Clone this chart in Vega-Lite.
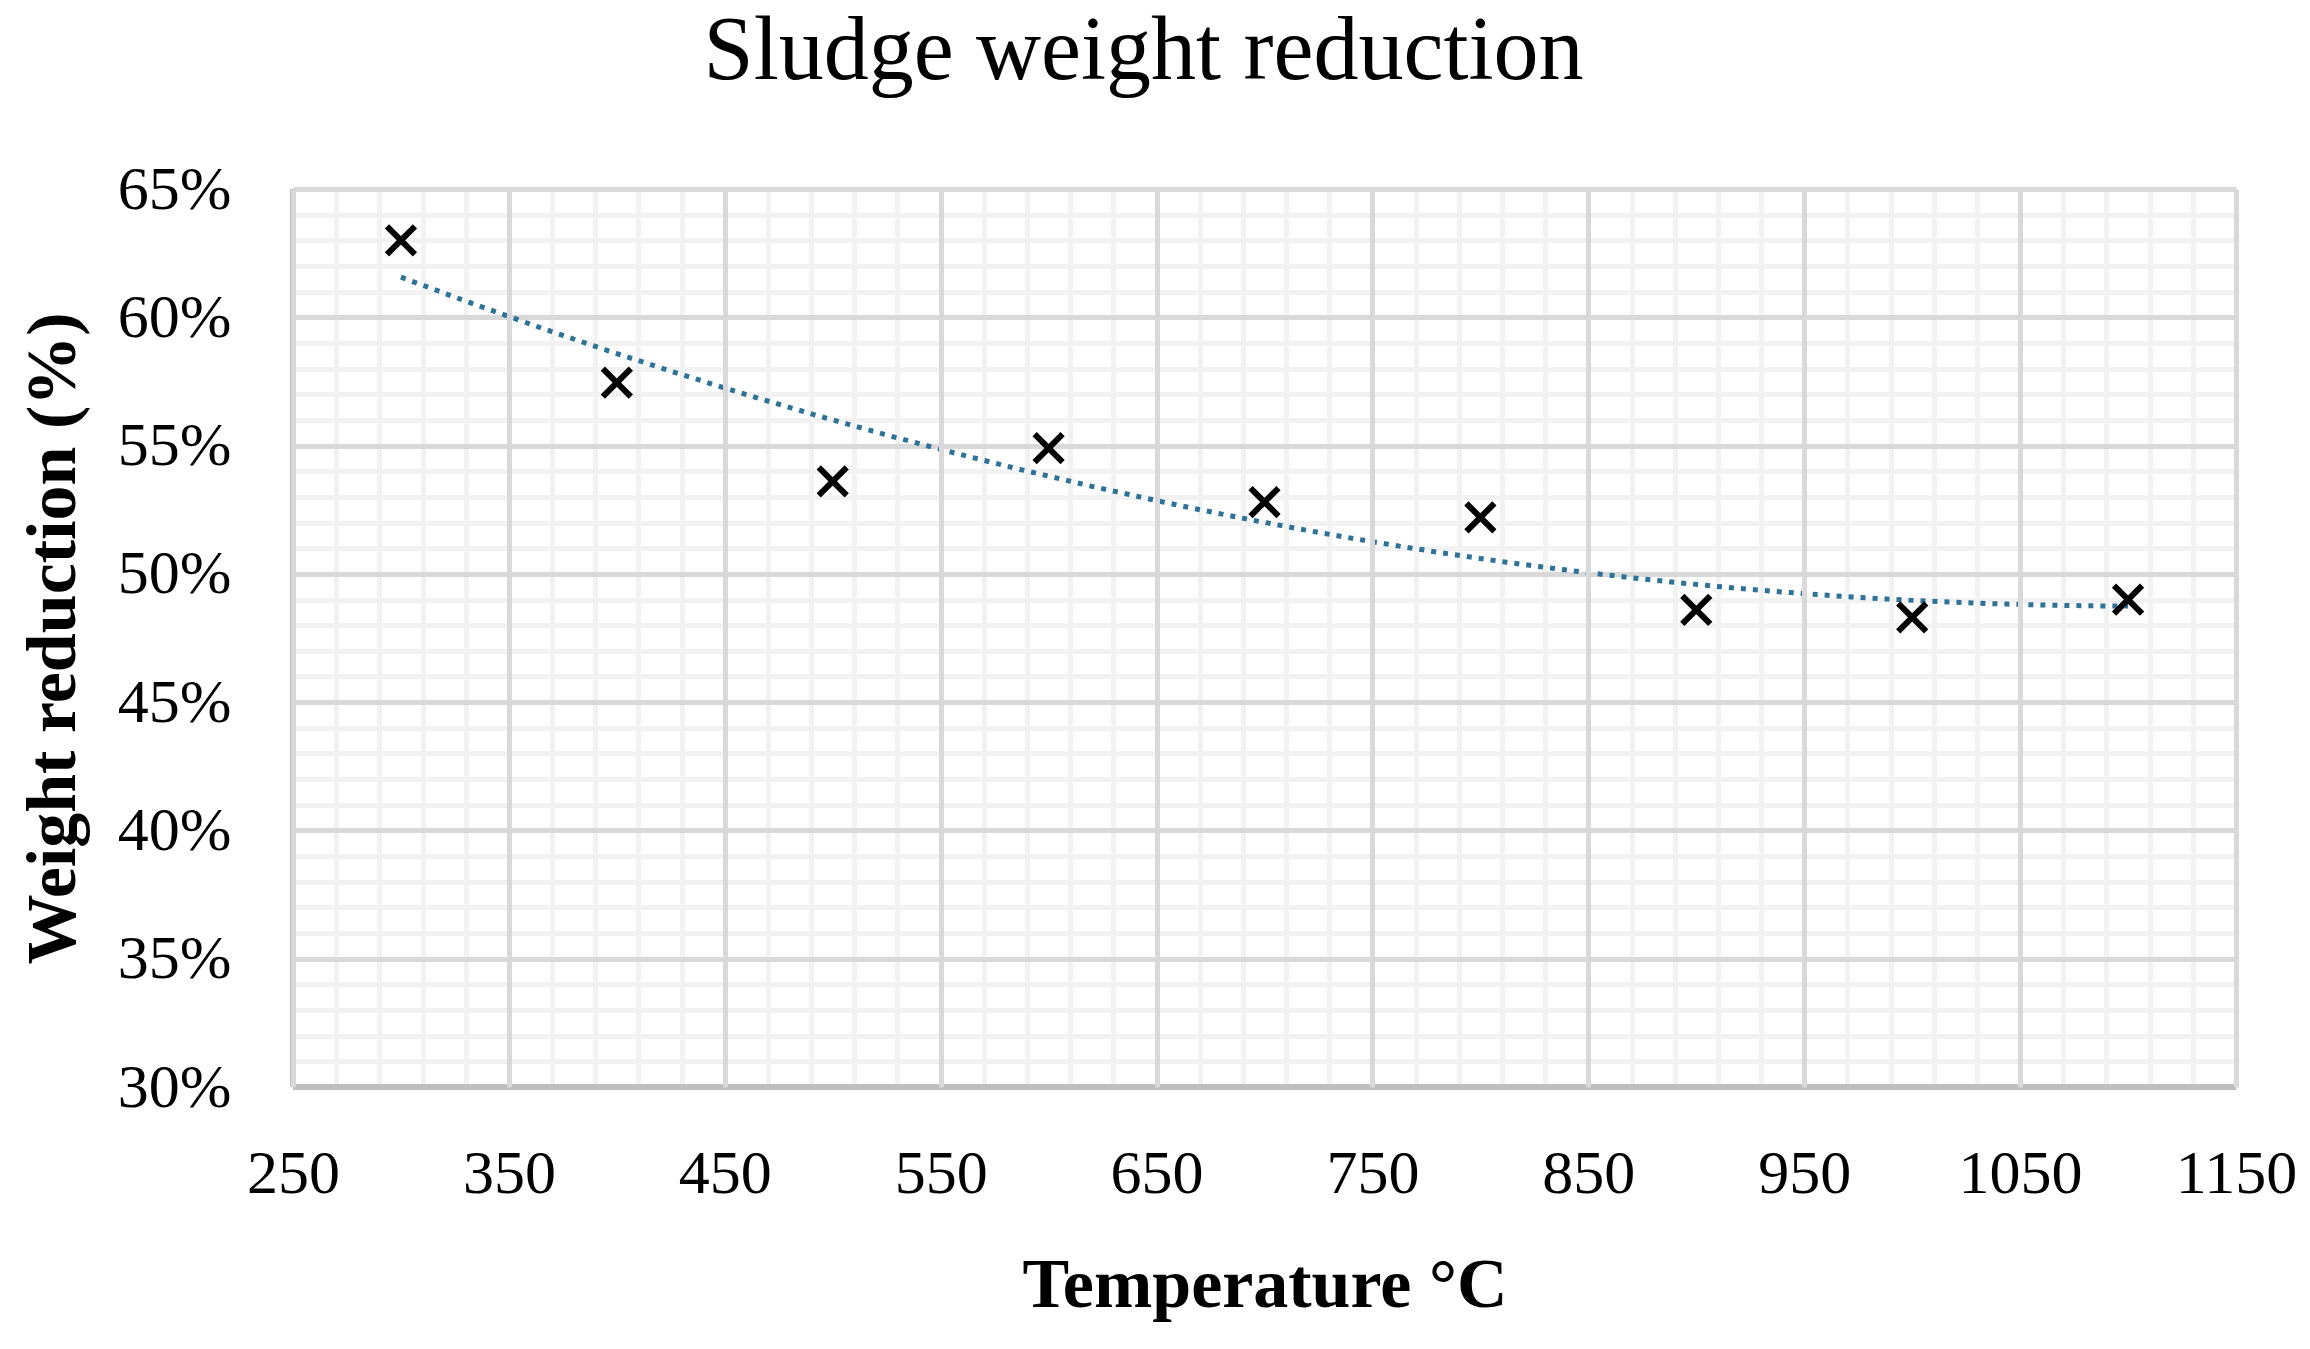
{
  "$schema": "https://vega.github.io/schema/vega-lite/v6.json",
  "description": "Sludge weight reduction against temperature, with a second-order polynomial trend line.",
  "autosize": "none",
  "width": 1943,
  "height": 898,
  "padding": {"left": 293, "top": 189, "right": 74, "bottom": 262},
  "background": "white",
  "title": {
    "text": "Sludge weight reduction",
    "font": "Liberation Serif",
    "fontSize": 90,
    "fontWeight": "normal",
    "color": "black",
    "anchor": "middle",
    "baseline": "alphabetic",
    "dx": -121,
    "offset": -11
  },
  "data": {
    "values": [
      {"Temperature": 300, "Reduction": 0.630},
      {"Temperature": 400, "Reduction": 0.5745},
      {"Temperature": 500, "Reduction": 0.536},
      {"Temperature": 600, "Reduction": 0.549},
      {"Temperature": 700, "Reduction": 0.528},
      {"Temperature": 800, "Reduction": 0.522},
      {"Temperature": 900, "Reduction": 0.486},
      {"Temperature": 1000, "Reduction": 0.483},
      {"Temperature": 1100, "Reduction": 0.490}
    ]
  },
  "resolve": {"axis": {"x": "independent", "y": "independent"}},
  "layer": [
    {
      "data": {"values": [{}]},
      "mark": {"type": "rule", "color": "#bfbfbf", "strokeWidth": 6},
      "encoding": {
        "x": {"datum": 250, "type": "quantitative", "axis": null}
      }
    },
    {
      "data": {"values": [{}]},
      "mark": {"type": "rule", "color": "#bfbfbf", "strokeWidth": 6},
      "encoding": {
        "y": {"datum": 0.30, "type": "quantitative", "axis": null}
      }
    },
    {
      "transform": [
        {
          "regression": "Reduction",
          "on": "Temperature",
          "method": "poly",
          "order": 2,
          "extent": [300, 1100]
        }
      ],
      "mark": {
        "type": "line",
        "color": "#2e7298",
        "strokeWidth": 5,
        "strokeDash": [5, 7],
        "strokeCap": "butt"
      },
      "encoding": {
        "x": {"field": "Temperature", "type": "quantitative", "axis": null},
        "y": {"field": "Reduction", "type": "quantitative", "axis": null}
      }
    },
    {
      "mark": {
        "type": "point",
        "shape": "M-1,-1L1,1M-1,1L1,-1",
        "size": 784,
        "filled": false,
        "stroke": "black",
        "strokeWidth": 6,
        "opacity": 1
      },
      "encoding": {
        "x": {
          "field": "Temperature",
          "type": "quantitative",
          "axis": {
            "orient": "bottom",
            "title": "Temperature °C",
            "values": [250, 350, 450, 550, 650, 750, 850, 950, 1050, 1150],
            "format": "d",
            "domain": false,
            "ticks": false,
            "grid": true,
            "gridColor": "#d9d9d9",
            "gridWidth": 5,
            "zindex": 1,
            "labelFont": "Liberation Serif",
            "labelFontSize": 62,
            "labelColor": "black",
            "labelPadding": 56,
            "labelFlush": false,
            "labelOverlap": false,
            "titleFont": "Liberation Serif",
            "titleFontSize": 70,
            "titleFontWeight": "bold",
            "titleColor": "black",
            "titlePadding": 47
          }
        },
        "y": {
          "field": "Reduction",
          "type": "quantitative",
          "axis": {
            "orient": "left",
            "title": "Weight reduction (%)",
            "values": [0.30, 0.35, 0.40, 0.45, 0.50, 0.55, 0.60, 0.65],
            "format": ".0%",
            "domain": false,
            "ticks": false,
            "grid": true,
            "gridColor": "#d9d9d9",
            "gridWidth": 5,
            "labelFont": "Liberation Serif",
            "labelFontSize": 62,
            "labelColor": "black",
            "labelPadding": 62,
            "labelFlush": false,
            "labelOverlap": false,
            "titleFont": "Liberation Serif",
            "titleFontSize": 70,
            "titleFontWeight": "bold",
            "titleColor": "black",
            "titlePadding": 28
          }
        }
      }
    },
    {
      "mark": {"type": "point", "opacity": 0},
      "encoding": {
        "x": {
          "field": "Temperature",
          "type": "quantitative",
          "scale": {"domain": [250, 1150], "nice": false, "zero": false},
          "axis": {
            "orient": "top",
            "labels": false,
            "ticks": false,
            "domain": false,
            "title": null,
            "grid": true,
            "gridColor": "#f2f2f2",
            "gridWidth": 5,
            "values": [270, 290, 310, 330, 370, 390, 410, 430, 470, 490, 510, 530, 570, 590, 610, 630, 670, 690, 710, 730, 770, 790, 810, 830, 870, 890, 910, 930, 970, 990, 1010, 1030, 1070, 1090, 1110, 1130]
          }
        },
        "y": {
          "field": "Reduction",
          "type": "quantitative",
          "scale": {"domain": [0.30, 0.65], "nice": false, "zero": false},
          "axis": {
            "orient": "right",
            "labels": false,
            "ticks": false,
            "domain": false,
            "title": null,
            "grid": true,
            "gridColor": "#f2f2f2",
            "gridWidth": 5,
            "values": [0.31, 0.32, 0.33, 0.34, 0.36, 0.37, 0.38, 0.39, 0.41, 0.42, 0.43, 0.44, 0.46, 0.47, 0.48, 0.49, 0.51, 0.52, 0.53, 0.54, 0.56, 0.57, 0.58, 0.59, 0.61, 0.62, 0.63, 0.64]
          }
        }
      }
    }
  ],
  "config": {
    "view": {"stroke": null}
  }
}
